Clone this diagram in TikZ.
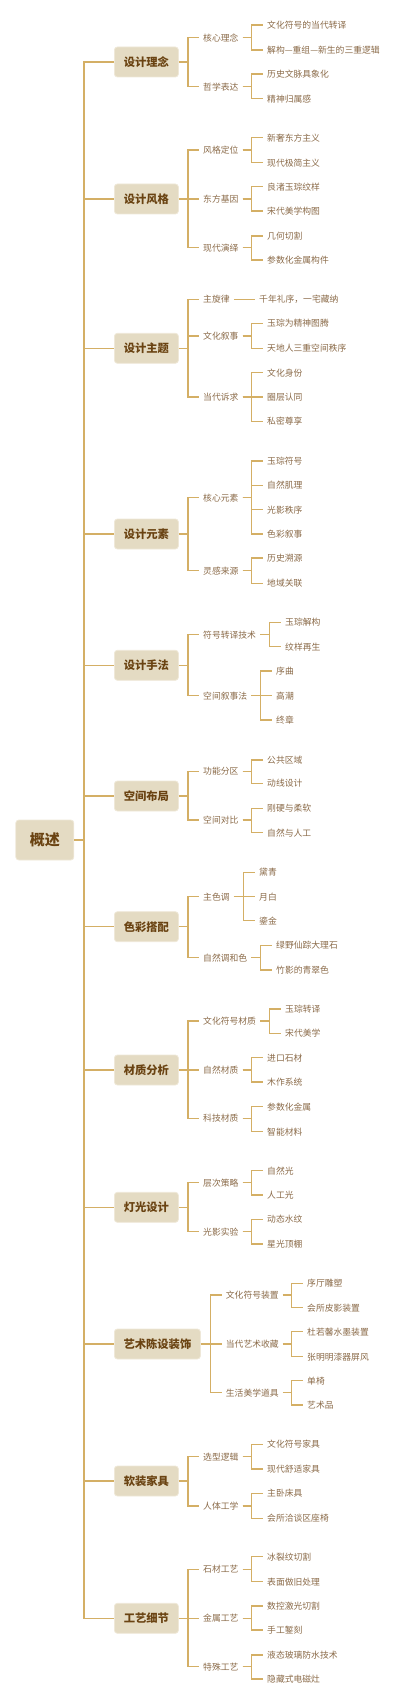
\documentclass[tikz,border=0pt]{standalone}
\usepackage{fontspec}
\setmainfont{Noto Sans CJK SC}
\definecolor{linec}{HTML}{D4AF65}
\definecolor{boxfill}{HTML}{E4DBC3}
\definecolor{boxedge}{HTML}{EFE8D8}
\definecolor{cattext}{HTML}{6A4312}
\definecolor{subtext}{HTML}{8A6A48}
\tikzset{
  conn/.style={draw=linec, line width=1.1pt},
  catbox/.style={fill=boxfill, draw=boxedge, line width=0.8pt, rounded corners=3pt,
    minimum width=64pt, minimum height=30pt, inner sep=0pt, text=cattext,
    font=\fontsize{11.3}{13}\selectfont\bfseries},
  rootbox/.style={catbox, minimum width=58pt, minimum height=40pt,
    font=\fontsize{15}{17}\selectfont\bfseries},
  subtxt/.style={inner xsep=4pt, inner ysep=1pt, text=subtext,
    font=\fontsize{8.8}{10}\selectfont},
  leaftxt/.style={inner xsep=4.5pt, inner ysep=1pt, text=subtext,
    font=\fontsize{8.8}{10}\selectfont},
}
\newcommand\CatN[4][]{%
  \node[catbox, anchor=west, #1] (#2) at (114,-#3) {#4};
  \draw[conn] (root.east) -| ([xshift=-30pt]#2.west) -- (#2.west);}
\newcommand\SubN[5]{%
  \node[subtxt, anchor=west] (#2) at (#3,-#4) {#5};
  \draw[conn] (#1.east) -| ([xshift=-11pt]#2.west) -- (#2.west);}
\newcommand\LeafN[5]{%
  \node[leaftxt, anchor=west] (#2) at (#3,-#4) {#5};
  \draw[conn] (#1.east) -| ([xshift=-11pt]#2.west) -- (#2.west);}
\begin{document}
\begin{tikzpicture}[x=1pt,y=1pt]
\useasboundingbox (0,0) rectangle (400,-1704);
\node[rootbox] (root) at (44.8,-840) {概述};

% 设计理念
\CatN{c1}{62}{设计理念}
\SubN{c1}{s11}{199}{37.7}{核心理念}
\LeafN{s11}{l111}{262.5}{25}{文化符号的当代转译}
\LeafN{s11}{l112}{262.5}{50}{解构—重组—新生的三重逻辑}
\SubN{c1}{s12}{199}{86.7}{哲学表达}
\LeafN{s12}{l121}{262.5}{74}{历史文脉具象化}
\LeafN{s12}{l122}{262.5}{98.7}{精神归属感}

% 设计风格
\CatN{c2}{199}{设计风格}
\SubN{c2}{s21}{199}{150}{风格定位}
\LeafN{s21}{l211}{262.5}{137.7}{新奢东方主义}
\LeafN{s21}{l212}{262.5}{162.7}{现代极简主义}
\SubN{c2}{s22}{199}{199}{东方基因}
\LeafN{s22}{l221}{262.5}{186.7}{良渚玉琮纹样}
\LeafN{s22}{l222}{262.5}{211}{宋代美学构图}
\SubN{c2}{s23}{199}{247.7}{现代演绎}
\LeafN{s23}{l231}{262.5}{236}{几何切割}
\LeafN{s23}{l232}{262.5}{260}{参数化金属构件}

% 设计主题
\CatN{c3}{348.3}{设计主题}
\SubN{c3}{s31}{199}{299.3}{主旋律}
\LeafN{s31}{l311}{254.5}{299.3}{千年礼序，一宅藏纳}
\SubN{c3}{s32}{199}{336}{文化叙事}
\LeafN{s32}{l321}{262.5}{323.3}{玉琮为精神图腾}
\LeafN{s32}{l322}{262.5}{348.3}{天地人三重空间秩序}
\SubN{c3}{s33}{199}{397}{当代诉求}
\LeafN{s33}{l331}{262.5}{372.7}{文化身份}
\LeafN{s33}{l332}{262.5}{397}{圈层认同}
\LeafN{s33}{l333}{262.5}{421.3}{私密尊享}

% 设计元素
\CatN{c4}{534}{设计元素}
\SubN{c4}{s41}{199}{497.7}{核心元素}
\LeafN{s41}{l411}{262.5}{461}{玉琮符号}
\LeafN{s41}{l412}{262.5}{485.3}{自然肌理}
\LeafN{s41}{l413}{262.5}{509.7}{光影秩序}
\LeafN{s41}{l414}{262.5}{534}{色彩叙事}
\SubN{c4}{s42}{199}{570.7}{灵感来源}
\LeafN{s42}{l421}{262.5}{558}{历史溯源}
\LeafN{s42}{l422}{262.5}{583.3}{地域关联}

% 设计手法
\CatN{c5}{665.3}{设计手法}
\SubN{c5}{s51}{199}{634.7}{符号转译技术}
\LeafN{s51}{l511}{280.5}{622.3}{玉琮解构}
\LeafN{s51}{l512}{280.5}{646.7}{纹样再生}
\SubN{c5}{s52}{199}{695.7}{空间叙事法}
\LeafN{s52}{l521}{271.5}{671}{序曲}
\LeafN{s52}{l522}{271.5}{695.7}{高潮}
\LeafN{s52}{l523}{271.5}{720}{终章}

% 空间布局
\CatN{c6}{796}{空间布局}
\SubN{c6}{s61}{199}{771.3}{功能分区}
\LeafN{s61}{l611}{262.5}{760}{公共区域}
\LeafN{s61}{l612}{262.5}{783.3}{动线设计}
\SubN{c6}{s62}{199}{820}{空间对比}
\LeafN{s62}{l621}{262.5}{808.3}{刚硬与柔软}
\LeafN{s62}{l622}{262.5}{832.7}{自然与人工}

% 色彩搭配
\CatN{c7}{926.7}{色彩搭配}
\SubN{c7}{s71}{199}{896.7}{主色调}
\LeafN{s71}{l711}{254.5}{872.3}{黛青}
\LeafN{s71}{l712}{254.5}{896.7}{月白}
\LeafN{s71}{l713}{254.5}{920.7}{鎏金}
\SubN{c7}{s72}{199}{957.7}{自然调和色}
\LeafN{s72}{l721}{271.5}{945.3}{绿野仙踪大理石}
\LeafN{s72}{l722}{271.5}{970}{竹影的青翠色}

% 材质分析
\CatN{c8}{1070}{材质分析}
\SubN{c8}{s81}{199}{1021}{文化符号材质}
\LeafN{s81}{l811}{280.5}{1009}{玉琮转译}
\LeafN{s81}{l812}{280.5}{1033.3}{宋代美学}
\SubN{c8}{s82}{199}{1070}{自然材质}
\LeafN{s82}{l821}{262.5}{1057.7}{进口石材}
\LeafN{s82}{l822}{262.5}{1082}{木作系统}
\SubN{c8}{s83}{199}{1118.3}{科技材质}
\LeafN{s83}{l831}{262.5}{1106.7}{参数化金属}
\LeafN{s83}{l832}{262.5}{1131.7}{智能材料}

% 灯光设计
\CatN{c9}{1207.3}{灯光设计}
\SubN{c9}{s91}{199}{1182.7}{层次策略}
\LeafN{s91}{l911}{262.5}{1170.7}{自然光}
\LeafN{s91}{l912}{262.5}{1195}{人工光}
\SubN{c9}{s92}{199}{1231.7}{光影实验}
\LeafN{s92}{l921}{262.5}{1219.3}{动态水纹}
\LeafN{s92}{l922}{262.5}{1244}{星光顶棚}

% 艺术陈设装饰
\CatN[minimum width=86pt]{c10}{1344}{艺术陈设装饰}
\SubN{c10}{s101}{221.7}{1295}{文化符号装置}
\LeafN{s101}{l1011}{302.5}{1283.3}{序厅雕塑}
\LeafN{s101}{l1012}{302.5}{1307.7}{会所皮影装置}
\SubN{c10}{s102}{221.7}{1344}{当代艺术收藏}
\LeafN{s102}{l1021}{302.5}{1331.7}{杜若馨水墨装置}
\LeafN{s102}{l1022}{302.5}{1356.7}{张明明漆器屏风}
\SubN{c10}{s103}{221.7}{1392.7}{生活美学道具}
\LeafN{s103}{l1031}{302.5}{1380.7}{单椅}
\LeafN{s103}{l1032}{302.5}{1405}{艺术品}

% 软装家具
\CatN{c11}{1481}{软装家具}
\SubN{c11}{s111}{199}{1456.7}{选型逻辑}
\LeafN{s111}{l1111}{262.5}{1444.3}{文化符号家具}
\LeafN{s111}{l1112}{262.5}{1469}{现代舒适家具}
\SubN{c11}{s112}{199}{1506}{人体工学}
\LeafN{s112}{l1121}{262.5}{1493.3}{主卧床具}
\LeafN{s112}{l1122}{262.5}{1518.3}{会所洽谈区座椅}

% 工艺细节
\CatN{c12}{1618.3}{工艺细节}
\SubN{c12}{s121}{199}{1569.3}{石材工艺}
\LeafN{s121}{l1211}{262.5}{1556.7}{冰裂纹切割}
\LeafN{s121}{l1212}{262.5}{1581.7}{表面做旧处理}
\SubN{c12}{s122}{199}{1618.3}{金属工艺}
\LeafN{s122}{l1221}{262.5}{1606}{数控激光切割}
\LeafN{s122}{l1222}{262.5}{1630}{手工錾刻}
\SubN{c12}{s123}{199}{1666.7}{特殊工艺}
\LeafN{s123}{l1231}{262.5}{1655}{液态玻璃防水技术}
\LeafN{s123}{l1232}{262.5}{1679}{隐藏式电磁灶}
\end{tikzpicture}
\end{document}
